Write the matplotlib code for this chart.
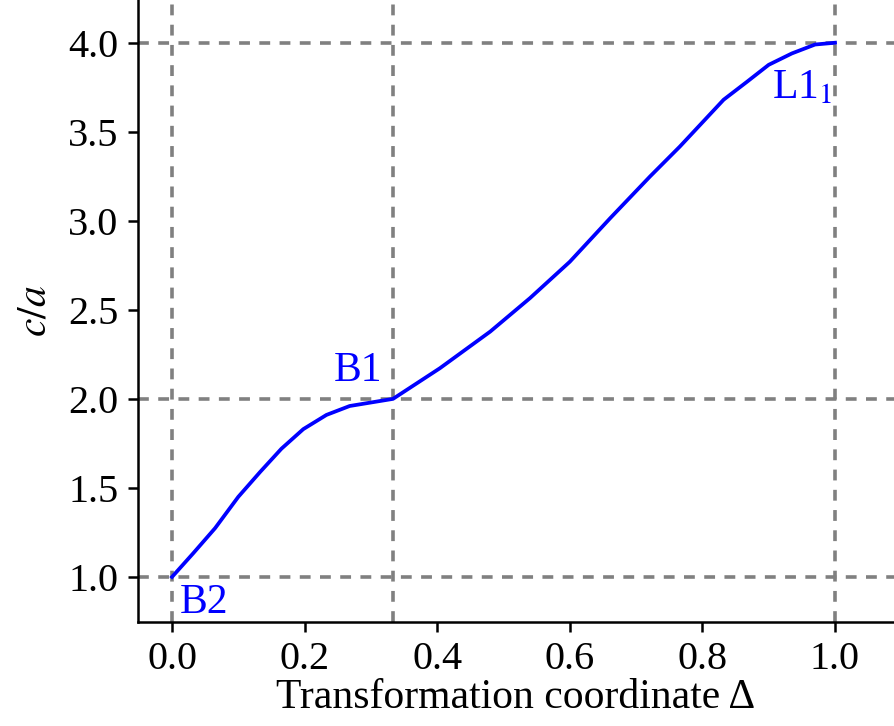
import matplotlib.pyplot as plt

plt.rcParams['font.family'] = ['Liberation Serif', 'DejaVu Serif']
plt.rcParams['mathtext.fontset'] = 'stix'

# path B2 -> B1 -> L1_1
delta = [0.0, 0.032, 0.065, 0.1, 0.133, 0.165, 0.198, 0.233, 0.268, 0.3333,
         0.404, 0.48, 0.54, 0.60, 0.661, 0.721, 0.766, 0.832, 0.867, 0.9, 0.935, 0.97, 1.0]
c_over_a = [1.0, 1.133, 1.274, 1.45, 1.59, 1.72, 1.83, 1.91, 1.96, 2.0,
            2.172, 2.378, 2.566, 2.77, 3.015, 3.249, 3.417, 3.68, 3.78, 3.876, 3.94, 3.99, 4.0]

special_x = [0.0, 1/3, 1.0]
special_y = [1.0, 2.0, 4.0]
xticks = [0.0, 0.2, 0.4, 0.6, 0.8, 1.0]
yticks = [1.0, 1.5, 2.0, 2.5, 3.0, 3.5, 4.0]

fig = plt.figure(figsize=(8.94, 7.26), dpi=100)
ax = fig.add_axes([138/894, 104/726, 1 - 138/894, 1 - 104/726])

for xv in special_x:
    ax.axvline(xv, color='gray', ls=(0, (3.0, 2.6)), lw=2.6, zorder=1)
for yv in special_y:
    ax.axhline(yv, color='gray', ls=(0, (3.0, 2.6)), lw=2.6, zorder=1)

ax.plot(delta, c_over_a, color='blue', lw=2.7, zorder=3)

fs = 30
ax.text(0.012, 0.8, 'B2', color='blue', fontsize=fs, ha='left', va='baseline')
ax.text(0.317, 2.1, 'B1', color='blue', fontsize=fs, ha='right', va='baseline')
ax.text(0.905, 3.69, 'L1$_1$', color='blue', fontsize=fs, ha='left', va='baseline')

ax.set_xlim(-0.0513, 1.089)
ax.set_ylim(0.747, 4.24)
ax.set_xticks(xticks)
ax.set_yticks(yticks)
ax.set_xticklabels([f'{v:.1f}' for v in xticks])
ax.set_yticklabels([f'{v:.1f}' for v in yticks])
ax.tick_params(labelsize=29, width=1.8, length=7, direction='out', pad=7)
for s in ['top', 'right']:
    ax.spines[s].set_visible(False)
for s in ['left', 'bottom']:
    ax.spines[s].set_linewidth(1.8)

ax.set_xlabel('Transformation coordinate Δ', fontsize=fs, labelpad=0)
ax.set_ylabel('$c/a$', fontsize=fs, labelpad=10)

fig.savefig('out.png', dpi=100)
